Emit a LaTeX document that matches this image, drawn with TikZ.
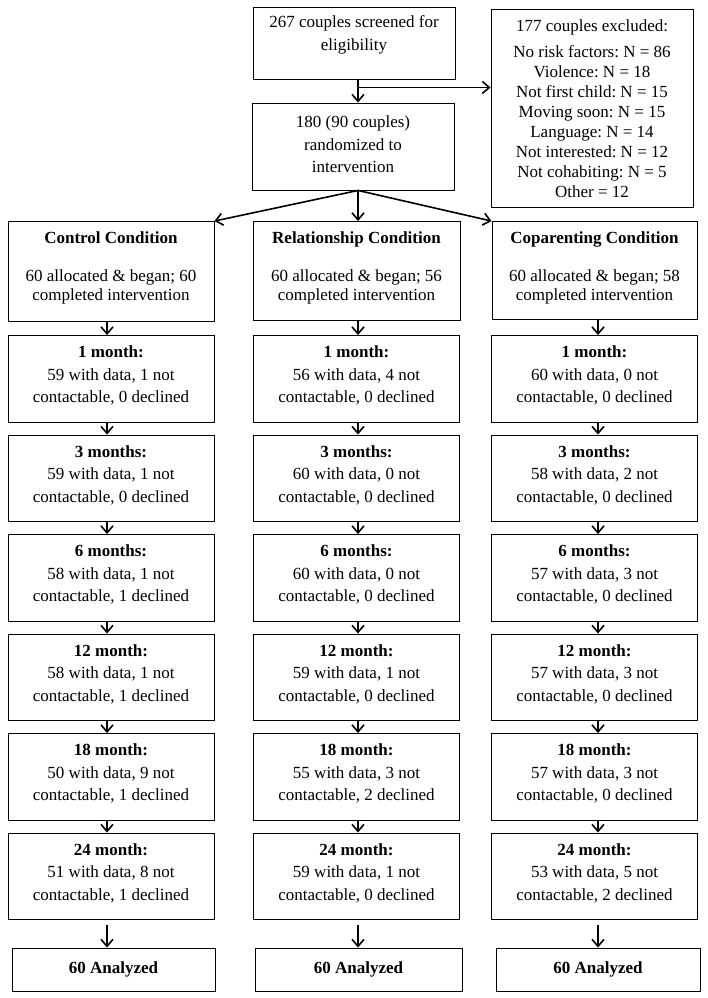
\documentclass[tikz,border=0pt]{standalone}
\usepackage{fontspec}
\setmainfont{Liberation Serif}
\usetikzlibrary{arrows.meta,calc}
\tikzset{
  box/.style={draw, line width=0.9pt, inner sep=0pt},
  txt/.style={align=center, inner sep=0pt, font=\fontsize{17}{22.5}\selectfont},
  one/.style={inner sep=0pt, text height=12pt, text depth=3.7pt, font=\fontsize{17}{20}\selectfont},
  arr/.style={line width=1.6pt, -{Straight Barb[length=7pt,width=12pt,line width=1.6pt]}},
}
\newcommand\monthbox[7]{%
  \node[box, minimum width=206pt, minimum height=86.5pt] (#1) at (#2,#3+43.25) {};
  \node[txt] (#1t) at ([yshift=3pt]#1.center) {\textbf{#4}\\#5 with data, #6 not\\contactable, #7 declined};
}
\begin{document}
\frenchspacing
\begin{tikzpicture}[x=1pt,y=-1pt]
\useasboundingbox[fill=white] (0,0) rectangle (707,998);

% top
\node[box, minimum width=202pt, minimum height=72pt] (top) at (354,43) {};
\node[txt] (topt) at ([yshift=8pt]top.center) {267 couples screened for\\eligibility};

\node[box, minimum width=202pt, minimum height=87pt] (rand) at (353,146.5) {};
\node[txt] (randt) at ([yshift=2pt]rand.center) {180 (90 couples)\\randomized to\\intervention};

\node[box, minimum width=202pt, minimum height=198pt] (excl) at (592,108) {};
\node[one] (exclh) at (592,26.9) {177 couples excluded:};
\node[txt, font=\fontsize{17}{20}\selectfont] (exclt) at (592,121.8) {No risk factors: N = 86\\Violence: N = 18\\Not first child: N = 15\\Moving soon: N = 15\\Language: N = 14\\Not interested: N = 12\\Not cohabiting: N = 5\\Other = 12};

\draw[arr] ([xshift=4pt]top.south) -- ([xshift=5pt]rand.north);
\coordinate (br) at ($([xshift=4pt]top.south)+(0,8)$);
\draw[arr] (br) -- (br -| excl.west);

% condition boxes
\node[box, minimum width=206pt, minimum height=100pt] (c1) at (111,271.5) {};
\node[box, minimum width=207pt, minimum height=99pt] (c2) at (356.5,271) {};
\node[box, minimum width=205pt, minimum height=98pt] (c3) at (594.5,270.5) {};
\node[one, font=\bfseries\fontsize{17}{20}\selectfont] (c1h) at ([yshift=32.65pt]c1.center) {Control Condition};
\node[one, font=\bfseries\fontsize{17}{20}\selectfont] (c2h) at ([yshift=32.65pt]c1.center -| c2.center) {Relationship Condition};
\node[one, font=\bfseries\fontsize{17}{20}\selectfont] (c3h) at ([yshift=32.65pt]c1.center -| c3.center) {Coparenting Condition};
\node[txt, font=\fontsize{17}{19}\selectfont] (c1t) at ([yshift=-15.85pt]c1.center) {60 allocated \& began; 60\\completed intervention};
\node[txt, font=\fontsize{17}{19}\selectfont] (c2t) at ([yshift=-15.85pt]c1.center -| c2.center) {60 allocated \& began; 56\\completed intervention};
\node[txt, font=\fontsize{17}{19}\selectfont] (c3t) at ([yshift=-15.85pt]c1.center -| c3.center) {60 allocated \& began; 58\\completed intervention};

\draw[arr] ([xshift=5pt]rand.south) -- (c1.north east);
\draw[arr] ([xshift=5pt]rand.south) -- ([xshift=1.5pt]c2.north);
\draw[arr] ([xshift=5pt]rand.south) -- (c3.north west);

% month boxes
\monthbox{a1}{111}{335.5}{1 month:}{59}{1}{0}
\monthbox{a2}{111}{435}{3 months:}{59}{1}{0}
\monthbox{a3}{111}{534.5}{6 months:}{58}{1}{1}
\monthbox{a4}{111}{634}{12 month:}{58}{1}{1}
\monthbox{a5}{111}{733.5}{18 month:}{50}{9}{1}
\monthbox{a6}{111}{833}{24 month:}{51}{8}{1}

\monthbox{b1}{356.5}{335.5}{1 month:}{56}{4}{0}
\monthbox{b2}{356.5}{435}{3 months:}{60}{0}{0}
\monthbox{b3}{356.5}{534.5}{6 months:}{60}{0}{0}
\monthbox{b4}{356.5}{634}{12 month:}{59}{1}{0}
\monthbox{b5}{356.5}{733.5}{18 month:}{55}{3}{2}
\monthbox{b6}{356.5}{833}{24 month:}{59}{1}{0}

\monthbox{d1}{594.5}{335.5}{1 month:}{60}{0}{0}
\monthbox{d2}{594.5}{435}{3 months:}{58}{2}{0}
\monthbox{d3}{594.5}{534.5}{6 months:}{57}{3}{0}
\monthbox{d4}{594.5}{634}{12 month:}{57}{3}{0}
\monthbox{d5}{594.5}{733.5}{18 month:}{57}{3}{0}
\monthbox{d6}{594.5}{833}{24 month:}{53}{5}{2}

% analyzed
\node[box, minimum width=203pt, minimum height=43pt, font=\bfseries\fontsize{17}{20}\selectfont] (a7) at (113.5,969.5) {60 Analyzed};
\node[box, minimum width=207pt, minimum height=43pt, font=\bfseries\fontsize{17}{20}\selectfont] (b7) at (358.5,969.5) {60 Analyzed};
\node[box, minimum width=204pt, minimum height=43pt, font=\bfseries\fontsize{17}{20}\selectfont] (d7) at (598,969.5) {60 Analyzed};

% vertical arrows
\draw[arr] ([xshift=-4pt]c1.south) -- ([xshift=-4pt]a1.north);
\draw[arr] ([xshift=1.5pt]c2.south) -- ([xshift=1.5pt]b1.north);
\draw[arr] ([xshift=3.5pt]c3.south) -- ([xshift=3.5pt]d1.north);
\foreach \i [evaluate=\i as \j using int(\i+1)] in {1,...,5}{
  \draw[arr] ([xshift=-4pt]a\i.south) -- ([xshift=-4pt]a\j.north);
  \draw[arr] ([xshift=1.5pt]b\i.south) -- ([xshift=1.5pt]b\j.north);
  \draw[arr] ([xshift=3.5pt]d\i.south) -- ([xshift=3.5pt]d\j.north);
}
\draw[arr, shorten <=5pt] ([xshift=-4pt]a6.south) -- ([xshift=-4pt]a6.south |- a7.north);
\draw[arr, shorten <=5pt] ([xshift=1.5pt]b6.south) -- ([xshift=1.5pt]b6.south |- b7.north);
\draw[arr, shorten <=5pt] ([xshift=3.5pt]d6.south) -- ([xshift=3.5pt]d6.south |- d7.north);
\end{tikzpicture}
\end{document}
